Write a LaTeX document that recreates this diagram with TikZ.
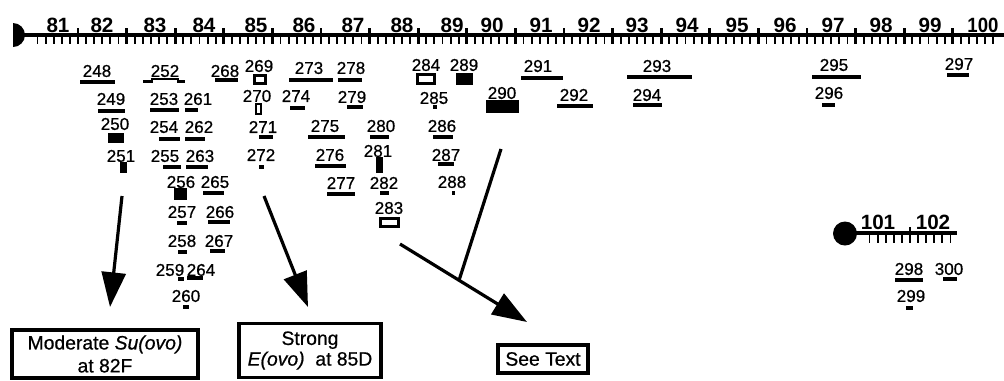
\documentclass[tikz,border=0pt]{standalone}
\usepackage{fontspec}
\setmainfont{Liberation Sans}
\newfontfamily\scanfont{Liberation Sans}[FakeBold=0.7]
\usetikzlibrary{arrows.meta,calc}
\tikzset{
  num/.style={inner sep=0pt, font=\scanfont\fontsize{12.8}{14}\selectfont},
  chrlab/.style={inner sep=0pt, anchor=base, font=\bfseries\fontsize{15.5}{17}\selectfont},
  openband/.style={draw=black, line width=2pt, fill=white},
  bigarrow/.style={line width=2.4pt, -{Triangle[length=26pt,width=18pt]}},
  plainline/.style={line width=2.4pt},
  infobox/.style={draw=black, line width=2.4pt, inner sep=0pt, align=center,
    font=\scanfont\fontsize{14.5}{17}\selectfont},
  smalltick/.style={line width=1.4pt},
  majortick/.style={line width=2pt}
}
\begin{document}
\begin{tikzpicture}[x=0.75pt,y=-0.75pt]
\useasboundingbox (0,0) rectangle (1004,380);

% ---- main chromosome ----
\begin{scope}
  \clip (13,20) rectangle (30,50);
  \fill (13,35) circle[radius=12];
\end{scope}
\draw[line width=3pt] (13,35) -- (1004,35);
\foreach \i in {0,...,118} \draw[smalltick] ({37.5+8.1*\i},37) -- ({37.5+8.1*\i},44);
\foreach \k in {0,...,18} \draw[majortick] ({78+48.6*\k},28) -- ({78+48.6*\k},44);
\foreach \d/\x in {81/58,82/102,83/155,84/204,85/256,86/304,87/353,88/402,89/452,90/492,
  91/541,92/589,93/637,94/687,95/737,96/785,97/833,98/881,99/930}
  \node[chrlab] (c\d) at (\x,32) {\d};
\node[chrlab, xscale=0.9] (c100) at (983,32) {100};

% ---- second chromosome ----
\fill (845,233.5) circle[radius=12];
\draw[line width=2.3pt] (845,233) -- (957,233);
\foreach \i in {0,...,10} \draw[smalltick] ({869.5+8.1*\i},235) -- ({869.5+8.1*\i},243);
\draw[majortick] (910,227) -- (910,243);
\node[chrlab] (c101) at (878,229) {101};
\node[chrlab] (c102) at (933,229) {102};

% ---- labels ----
\foreach \n/\x/\y in {248/97/71, 252/165/71, 268/225/71, 269/259/66, 273/309/68, 278/351/68,
  249/111/99, 253/164/99, 261/198/99, 270/257/96, 274/296/96, 279/352/97,
  250/115/124, 254/164/127, 262/199/127, 271/263/127, 275/325/126, 280/381/126, 286/442/126,
  251/121/156, 255/165/156, 263/200/156, 272/261/155, 276/330/155, 281/378/151, 287/446/155,
  256/181/182, 265/215/182, 277/341/183, 282/384/183, 288/452/182,
  257/182/212, 266/220/212, 283/389/208, 258/182/241, 267/219/241,
  259/170/270, 264/201/270, 260/186/296,
  284/426/65, 289/464/65, 285/434/98, 290/502/93, 291/538/66, 292/574/95,
  293/657/66, 294/647/95, 295/834/65, 296/829/93, 297/959/64,
  298/909/269, 300/949/269, 299/911/296}
  \node[num] (l\n) at (\x,\y) {\n};

% ---- underline bands ----
\foreach \a/\b/\y in {80/115/82, 215/238/80, 289/333/80, 338/362/80,
  98/125/111, 150/179/110, 185/198/110, 290/305/108, 347/363/107,
  159/180/139, 185/205/139, 259/273/137, 308/345/137, 370/389/137, 433/453/137,
  163/181/167, 186/208/167, 259/264/167, 315/346/166, 438/454/164,
  203/224/193, 327/355/194, 380/389/193, 452/455/193,
  177/187/223, 208/230/222, 178/187/252, 210/225/251, 178/184/279, 187/203/278, 183/189/307,
  433/437/107, 521/563/78, 557/593/106, 627/692/77, 633/662/105,
  812/861/77, 822/835/105, 947/969/75, 895/923/280, 943/957/279, 906/913/308}
  \fill (\a,{\y-1.6}) rectangle (\b,{\y+1.6});
% band 252 with its stepped ends
\fill (143,79.5) rectangle (153,82.5);
\fill (151,78) rectangle (179,80);
\fill (177,79.5) rectangle (185,82.5);

% ---- solid bands ----
\fill (108,133) rectangle (124,143);
\fill (120,162) rectangle (127,173);
\fill (376,157) rectangle (383,173);
\fill (174,188) rectangle (187,200);
\fill (456,73) rectangle (473,85);
\fill (486,100) rectangle (519,113);

% ---- open bands ----
\draw[openband] (254.5,75.5) rectangle (265.5,83.5);
\draw[openband, line width=1.6pt] (256,104) rectangle (261,114);
\draw[openband] (417.5,74.5) rectangle (434.5,83.5);
\draw[openband] (380.5,218.5) rectangle (398.5,226.5);

% ---- boxes ----
\node[infobox, minimum width=139.5pt, minimum height=36pt,
  font=\scanfont\fontsize{14.5}{17.2}\selectfont] (b1) at (105,354)
  {Moderate \textit{Su(ovo)}\\at 82F};
\node[infobox, minimum width=106.5pt, minimum height=41pt,
  font=\scanfont\fontsize{14.5}{15.5}\selectfont] (b2) at (310,350.5)
  {Strong\\\textit{E(ovo)}\ \ at 85D};
\node[infobox, minimum width=67.5pt, minimum height=21pt] (b3) at (543,359) {See Text};

% ---- arrows ----
\coordinate (a1s) at (122,196);
\coordinate (a1e) at (110,307);
\coordinate (a2s) at (264,196);
\coordinate (a2e) at (308,307);
\coordinate (a3s) at (400,244);
\coordinate (a3e) at (527,322);
\coordinate (a3b) at (501,149);
\coordinate (j) at ($(a3s)!0.465!(a3e)$);
\draw[bigarrow] (a1s) -- (a1e);
\draw[bigarrow] (a2s) -- (a2e);
\draw[bigarrow] (a3s) -- (a3e);
\draw[plainline] (a3b) -- (j);
\end{tikzpicture}
\end{document}
